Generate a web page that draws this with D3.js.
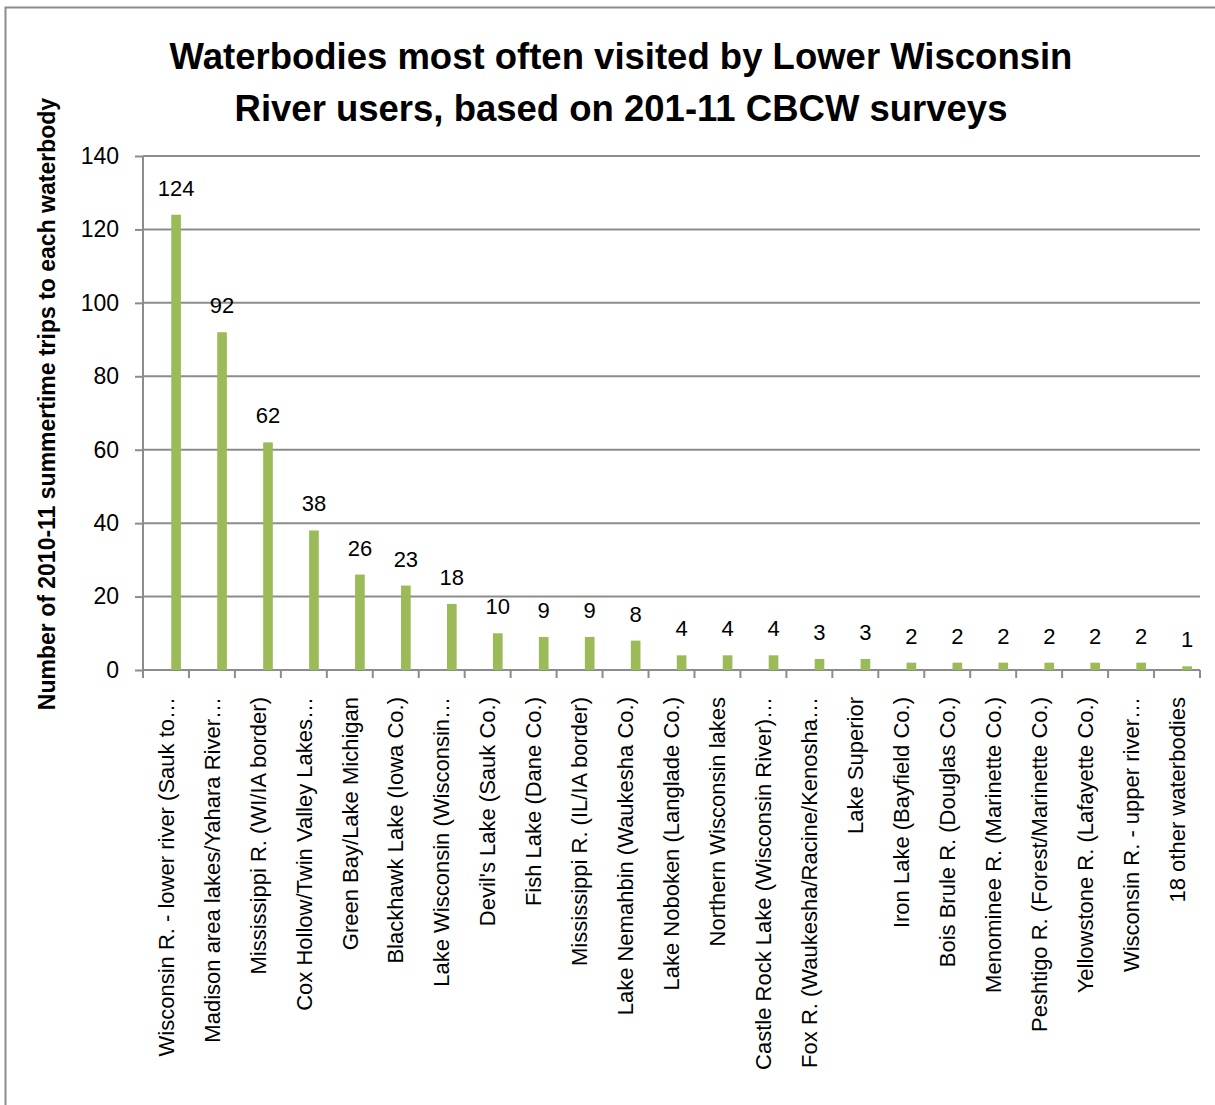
<!DOCTYPE html>
<html>
<head>
<meta charset="utf-8">
<script src="https://cdn.jsdelivr.net/npm/d3@7"></script>
<style>
  body { margin: 0; background: #fff; }
  text { font-family: "Liberation Sans", Arial, sans-serif; fill: #000; }
</style>
</head>
<body>
<div id="layout"></div>
<script>
// chart data
var waterbodies = [
  "Wisconsin R. - lower river (Sauk to…",
  "Madison area lakes/Yahara River…",
  "Mississippi R. (WI/IA border)",
  "Cox Hollow/Twin Valley Lakes…",
  "Green Bay/Lake Michigan",
  "Blackhawk Lake (Iowa Co.)",
  "Lake Wisconsin (Wisconsin…",
  "Devil's Lake (Sauk Co.)",
  "Fish Lake (Dane Co.)",
  "Mississippi R. (IL/IA border)",
  "Lake Nemahbin (Waukesha Co.)",
  "Lake Noboken (Langlade Co.)",
  "Northern Wisconsin lakes",
  "Castle Rock Lake (Wisconsin River)…",
  "Fox R. (Waukesha/Racine/Kenosha…",
  "Lake Superior",
  "Iron Lake (Bayfield Co.)",
  "Bois Brule R. (Douglas Co.)",
  "Menominee R. (Marinette Co.)",
  "Peshtigo R. (Forest/Marinette Co.)",
  "Yellowstone R. (Lafayette Co.)",
  "Wisconsin R. - upper river…",
  "18 other waterbodies"
];
var trips = [124, 92, 62, 38, 26, 23, 18, 10, 9, 9, 8, 4, 4, 4, 3, 3, 2, 2, 2, 2, 2, 2, 1];
var yTicks = [0, 20, 40, 60, 80, 100, 120, 140];
var titleLines = ["Waterbodies most often visited by Lower Wisconsin", "River users, based on 201-11 CBCW surveys"];
var yLabel = "Number of 2010-11 summertime trips to each waterbody";

var outerWidth = 1215,
    outerHeight = 1105,
    plot = { left: 143, right: 1200, top: 156, bottom: 670 };

var svg = d3.select("#layout")
            .append("svg")
            .attr("width", outerWidth)
            .attr("height", outerHeight);

// chart border
svg.append("rect")
   .attr("x", 5.5)
   .attr("y", 7.5)
   .attr("width", 1215)
   .attr("height", 1110)
   .attr("fill", "none")
   .attr("stroke", "#8c8c8c")
   .attr("stroke-width", 2);

// title
svg.append("text")
   .attr("id", "title")
   .attr("text-anchor", "middle")
   .style("font-size", "36.5px")
   .style("font-weight", "bold")
   .selectAll("tspan")
   .data(titleLines)
   .enter()
   .append("tspan")
   .attr("x", 621)
   .attr("y", (d, i) => 69 + i * 52)
   .text(d => d);

var xScale = d3.scaleBand()
               .domain(waterbodies)
               .range([plot.left, plot.right]);

var yScale = d3.scaleLinear()
               .domain([0, 140])
               .range([plot.bottom, plot.top]);

// gridlines
svg.append("g")
   .selectAll("line")
   .data(yTicks.filter(d => d > 0))
   .enter()
   .append("line")
   .attr("x1", plot.left)
   .attr("x2", plot.right)
   .attr("y1", d => yScale(d))
   .attr("y2", d => yScale(d))
   .attr("stroke", "#8c8c8c")
   .attr("stroke-width", 2);

// Y axis
var yAxis = d3.axisLeft(yScale)
              .tickValues(yTicks)
              .tickSize(8)
              .tickPadding(16);

var yAxisG = svg.append("g")
   .attr("id", "y-axis")
   .attr("transform", "translate(" + plot.left + ",0)")
   .call(yAxis);
yAxisG.selectAll("line, path").attr("stroke", "#8c8c8c").attr("stroke-width", 2);
yAxisG.select("path").attr("d", "M0," + plot.top + "V" + plot.bottom);
yAxisG.selectAll("text").style("font-size", "23px").attr("fill", "#000");

// X axis
var xAxis = d3.axisBottom(xScale)
              .tickSize(0)
              .tickPadding(0);

var xAxisG = svg.append("g")
   .attr("id", "x-axis")
   .attr("transform", "translate(0," + plot.bottom + ")")
   .call(xAxis);
xAxisG.select("path").attr("d", "M" + plot.left + ",0H" + plot.right).attr("stroke", "#8c8c8c").attr("stroke-width", 2);
xAxisG.selectAll(".tick line").remove();

// category separators on the x axis
xAxisG.append("g")
   .selectAll("line")
   .data(waterbodies.concat(["__end"]))
   .enter()
   .append("line")
   .attr("x1", (d, i) => plot.left + i * xScale.bandwidth())
   .attr("x2", (d, i) => plot.left + i * xScale.bandwidth())
   .attr("y1", 0)
   .attr("y2", 8)
   .attr("stroke", "#8c8c8c")
   .attr("stroke-width", 2);

xAxisG.selectAll(".tick text")
   .style("font-size", "22px")
   .attr("fill", "#000")
   .attr("text-anchor", "end")
   .attr("dy", "0.35em")
   .attr("transform", "translate(0,27) rotate(-90)");

// bars (offset inside the band like the original)
var barOffset = 0.615,
    barWidth = 0.21;

svg.append("g")
   .selectAll("rect")
   .data(trips)
   .enter()
   .append("rect")
   .attr("class", "bar")
   .attr("x", (d, i) => xScale(waterbodies[i]) + xScale.bandwidth() * barOffset)
   .attr("y", d => yScale(d))
   .attr("width", xScale.bandwidth() * barWidth)
   .attr("height", d => plot.bottom - yScale(d))
   .attr("fill", "#9bbb59");

// data labels
svg.append("g")
   .selectAll("text")
   .data(trips)
   .enter()
   .append("text")
   .attr("text-anchor", "middle")
   .style("font-size", "22px")
   .attr("x", (d, i) => xScale(waterbodies[i]) + xScale.bandwidth() * (barOffset + barWidth / 2))
   .attr("y", d => yScale(d) - 19)
   .text(d => d);

// Y axis label
svg.append("text")
   .attr("id", "y-label")
   .attr("text-anchor", "middle")
   .attr("transform", "translate(55,404) rotate(-90)")
   .style("font-size", "23px")
   .style("font-weight", "bold")
   .text(yLabel);
</script>
</body>
</html>
